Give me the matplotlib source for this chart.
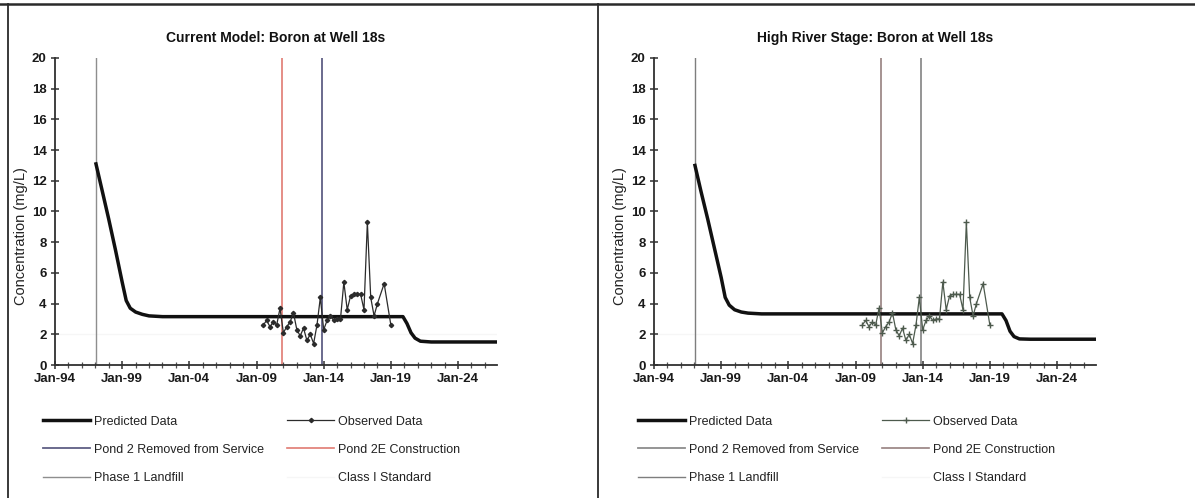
import matplotlib
matplotlib.use("Agg")
import matplotlib.pyplot as plt
from matplotlib.lines import Line2D
from matplotlib.ticker import MultipleLocator, FixedLocator

plt.rcParams["font.family"] = ["Liberation Sans", "DejaVu Sans"]

# ---------------- data (decimal years, mg/L) ----------------
pred_t = [1997.05, 1997.5, 1998.0, 1998.5, 1999.0, 1999.3, 1999.6, 2000.0,
          2000.5, 2001.0, 2002.0, 2019.9, 2020.2, 2020.5, 2020.8, 2021.2,
          2022.0, 2026.9]
pred_current = [13.1, 11.4, 9.5, 7.5, 5.4, 4.2, 3.7, 3.45, 3.3, 3.2, 3.15,
                3.15, 2.7, 2.1, 1.75, 1.55, 1.5, 1.5]
pred_high = [13.0, 11.3, 9.5, 7.6, 5.7, 4.4, 3.9, 3.6, 3.45, 3.38, 3.33,
             3.33, 2.9, 2.2, 1.85, 1.7, 1.68, 1.68]

obs_t = [2009.5, 2009.75, 2010.0, 2010.25, 2010.5, 2010.75, 2011.0, 2011.25,
         2011.5, 2011.75, 2012.0, 2012.25, 2012.5, 2012.75, 2013.0, 2013.25,
         2013.5, 2013.75, 2014.0, 2014.25, 2014.5, 2014.75, 2015.0, 2015.25,
         2015.5, 2015.75, 2016.0, 2016.25, 2016.5, 2016.75, 2017.0, 2017.25,
         2017.5, 2017.75, 2018.0, 2018.5, 2019.0]
obs_v = [2.6, 2.9, 2.5, 2.8, 2.6, 3.7, 2.1, 2.5, 2.8, 3.4, 2.3, 1.9, 2.4,
         1.6, 2.0, 1.4, 2.6, 4.4, 2.3, 2.9, 3.2, 2.9, 3.0, 3.0, 5.4, 3.6,
         4.5, 4.6, 4.6, 4.6, 3.6, 9.3, 4.4, 3.2, 4.0, 5.3, 2.6]

phase1_landfill = 1997.05
pond2e_construction = 2010.9
pond2_removed = 2013.9
class1_standard = 2.0

year_ticks = [1994, 1999, 2004, 2009, 2014, 2019, 2024]
year_labels = ["Jan-94", "Jan-99", "Jan-04", "Jan-09", "Jan-14", "Jan-19", "Jan-24"]

titles = ["Current Model: Boron at Well 18s", "High River Stage: Boron at Well 18s"]

W, H = 1195, 498
fig = plt.figure(figsize=(W / 100, H / 100), dpi=100)
fig.patch.set_facecolor("white")


def fx(px):
    return px / W


def fy(py):
    return 1 - py / H


# panel frames
frame_kw = dict(color="#2a2a2a", lw=1.3, transform=fig.transFigure)
fig.add_artist(Line2D([0, 1], [fy(4.5), fy(4.5)], **dict(frame_kw, lw=1.8)))
fig.add_artist(Line2D([fx(7.5), fx(7.5)], [fy(4.5), 0], **frame_kw))
fig.add_artist(Line2D([fx(598), fx(598)], [fy(4.5), 0], **frame_kw))

panels = [
    dict(left=55, right=497, pred=pred_current, title=titles[0],
         obs_color="#2b2b2b", obs_marker="D", obs_ms=2.2,
         c_phase1="#8e8e8e", c_pond2e="#e07a72", c_pond2="#5f5f85",
         leg_x=43),
    dict(left=654, right=1096, pred=pred_high, title=titles[1],
         obs_color="#4d5a4d", obs_marker="+", obs_ms=4,
         c_phase1="#7e7e7e", c_pond2e="#96807f", c_pond2="#8c8c8c",
         leg_x=638),
]

top_px, bot_px = 58, 365

for p in panels:
    wpx = p["right"] - p["left"]
    ax = fig.add_axes([fx(p["left"]), fy(bot_px), fx(wpx), (bot_px - top_px) / H])
    ax.set_facecolor("none")

    l_pred, = ax.plot(pred_t, p["pred"], color="#111111", lw=2.5,
                      solid_joinstyle="round", zorder=4)
    l_obs, = ax.plot(obs_t, obs_v, color=p["obs_color"], lw=0.9,
                     marker=p["obs_marker"], ms=p["obs_ms"],
                     mec=p["obs_color"], mfc=p["obs_color"], zorder=5)
    l_pond2 = ax.axvline(pond2_removed, color=p["c_pond2"], lw=1.3, zorder=2)
    l_pond2e = ax.axvline(pond2e_construction, color=p["c_pond2e"], lw=1.2,
                          zorder=2)
    l_phase1 = ax.axvline(phase1_landfill, color=p["c_phase1"], lw=1.0,
                          zorder=2)
    l_std = ax.axhline(class1_standard, color="#f6f6f6", lw=1.0, zorder=1)

    ax.set_xlim(1994, 2026.9)
    ax.set_ylim(0, 20)
    ax.xaxis.set_major_locator(FixedLocator(year_ticks))
    ax.set_xticklabels(year_labels)
    ax.xaxis.set_minor_locator(MultipleLocator(1))
    ax.yaxis.set_major_locator(MultipleLocator(2))

    for s in ("top", "right"):
        ax.spines[s].set_visible(False)
    for s in ("left", "bottom"):
        ax.spines[s].set_color("#303030")
        ax.spines[s].set_linewidth(1.3)

    ax.tick_params(axis="both", which="major", direction="inout", length=6,
                   width=1.1, color="#303030", labelsize=9.5, pad=3)
    ax.tick_params(axis="x", which="minor", direction="inout", length=4,
                   width=0.9, color="#505050")
    for lab in ax.get_xticklabels() + ax.get_yticklabels():
        lab.set_fontweight("bold")
        lab.set_color("#1a1a1a")

    ax.set_ylabel("Concentration (mg/L)", fontsize=10.5, color="#222222")
    ax.yaxis.set_label_coords(-27 / wpx, 0.42)

    ax.text(0.5, 1 + 20 / (bot_px - top_px), p["title"], transform=ax.transAxes,
            ha="center", va="center", fontsize=10, fontweight="bold",
            color="#111111")

    handles = [l_pred, l_pond2, l_phase1, l_obs, l_pond2e, l_std]
    labels = ["Predicted Data", "Pond 2 Removed from Service", "Phase 1 Landfill",
              "Observed Data", "Pond 2E Construction", "Class I Standard"]
    leg = ax.legend(handles, labels, loc="upper left",
                    bbox_to_anchor=(fx(p["leg_x"]), fy(415.5)),
                    bbox_transform=fig.transFigure, ncol=2, frameon=False,
                    fontsize=9, handlelength=3.75, handletextpad=0.3,
                    columnspacing=1.9, labelspacing=1.3, borderpad=0,
                    borderaxespad=0)
    for t in leg.get_texts():
        t.set_color("#222222")

fig.savefig("out.png", dpi=100, facecolor="white")
